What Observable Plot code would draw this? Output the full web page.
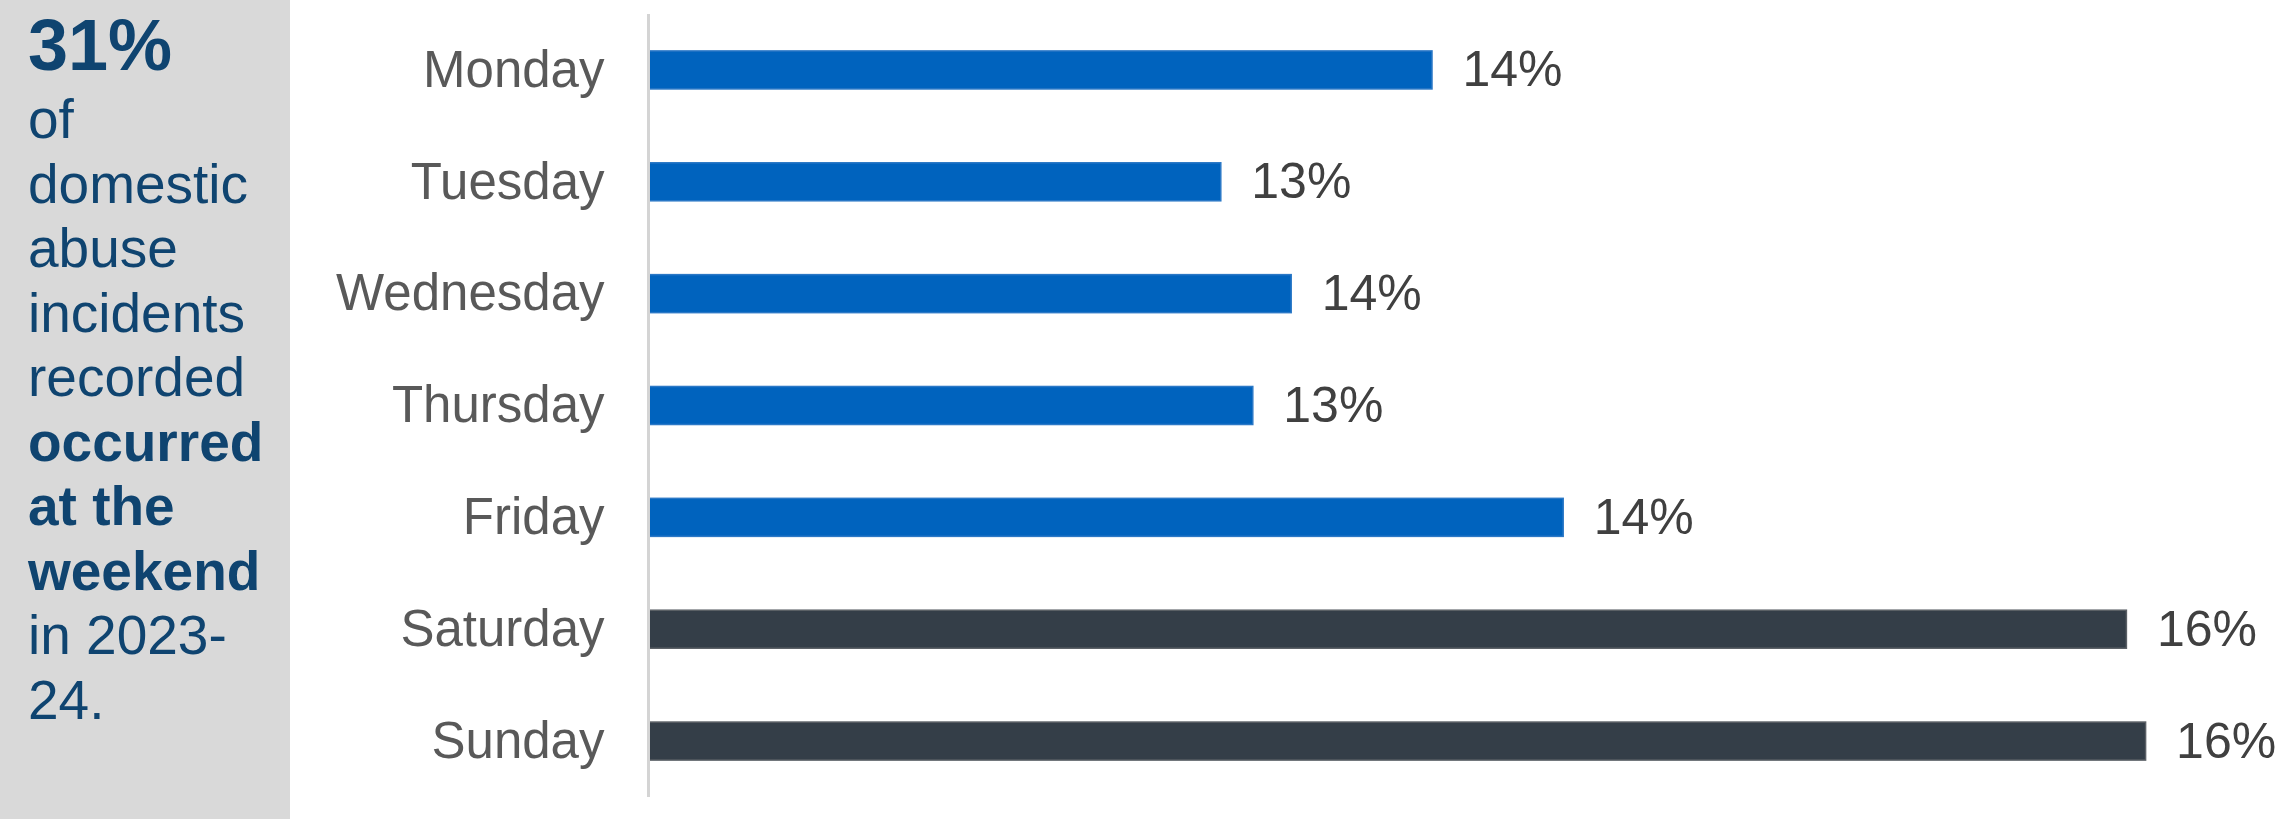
<!DOCTYPE html>
<html>
<head>
<meta charset="utf-8">
<script src="https://cdn.jsdelivr.net/npm/d3@7"></script>
<script src="https://cdn.jsdelivr.net/npm/@observablehq/plot@0.6"></script>
<style>
  html, body { margin: 0; padding: 0; background: #ffffff; }
  #wrap { display: flex; width: 2280px; height: 819px; font-family: "Liberation Sans", Arial, sans-serif; }
  #panel { width: 290px; height: 819px; background: #d9d9d9; box-sizing: border-box; padding: 9px 0 0 28px; color: #0f4470; }
  #panel .big { font-size: 72px; font-weight: bold; line-height: 72px; margin-bottom: 6px; }
  #panel .ln { font-size: 55px; line-height: 64.5px; white-space: nowrap; }
  #panel .b { font-weight: bold; }
  #chart { width: 1990px; height: 819px; }
</style>
</head>
<body>
<div id="wrap">
  <div id="panel"></div>
  <div id="chart"></div>
</div>
<script>
// Data
const days = ["Monday", "Tuesday", "Wednesday", "Thursday", "Friday", "Saturday", "Sunday"];
const shares = [14.0, 13.34, 13.56, 13.44, 14.41, 16.17, 16.23];
const dayType = ["Weekday", "Weekday", "Weekday", "Weekday", "Weekday", "Weekend", "Weekend"];
const axisStart = 11.55;
const axisEnd = 16.65;

// Panel text
const headline = "31%";
const panelLines = [
  {text: "of", bold: false},
  {text: "domestic", bold: false},
  {text: "abuse", bold: false},
  {text: "incidents", bold: false},
  {text: "recorded", bold: false},
  {text: "occurred", bold: true},
  {text: "at the", bold: true},
  {text: "weekend", bold: true},
  {text: "in 2023-", bold: false},
  {text: "24.", bold: false}
];

const panel = document.getElementById("panel");
const big = document.createElement("div");
big.className = "big";
big.textContent = headline;
panel.appendChild(big);
for (const l of panelLines) {
  const d = document.createElement("div");
  d.className = "ln" + (l.bold ? " b" : "");
  d.textContent = l.text;
  panel.appendChild(d);
}

const data = days.map((day, i) => ({day, value: shares[i], type: dayType[i]}));

const chart = Plot.plot({
  width: 1990,
  height: 819,
  marginLeft: 358,
  marginRight: 0,
  marginTop: 14,
  marginBottom: 22,
  style: {fontFamily: "'Liberation Sans', Arial, sans-serif", background: "#ffffff"},
  x: {domain: [axisStart, axisEnd], axis: null},
  y: {domain: days, paddingInner: 0.66, paddingOuter: 0.33, round: false, label: null},
  color: {domain: ["Weekday", "Weekend"], range: ["#0063be", "#343e48"]},
  marks: [
    Plot.barX(data, {
      y: "day",
      x1: () => axisStart,
      x2: "value",
      fill: "type",
      stroke: d => d.type === "Weekend" ? "#5b6066" : "#2b78c6",
      strokeWidth: 1.5
    }),
    Plot.ruleX([axisStart], {stroke: "#d4d4d4", strokeWidth: 3}),
    Plot.text(data, {
      x: "value",
      y: "day",
      text: d => Math.round(d.value) + "%",
      dx: 30,
      textAnchor: "start",
      fontSize: 50,
      fill: "#404040"
    }),
    Plot.axisY({tickSize: 0, tickPadding: 44, fontSize: 51, fill: "#595959", label: null})
  ]
});
document.getElementById("chart").appendChild(chart);
</script>
</body>
</html>
